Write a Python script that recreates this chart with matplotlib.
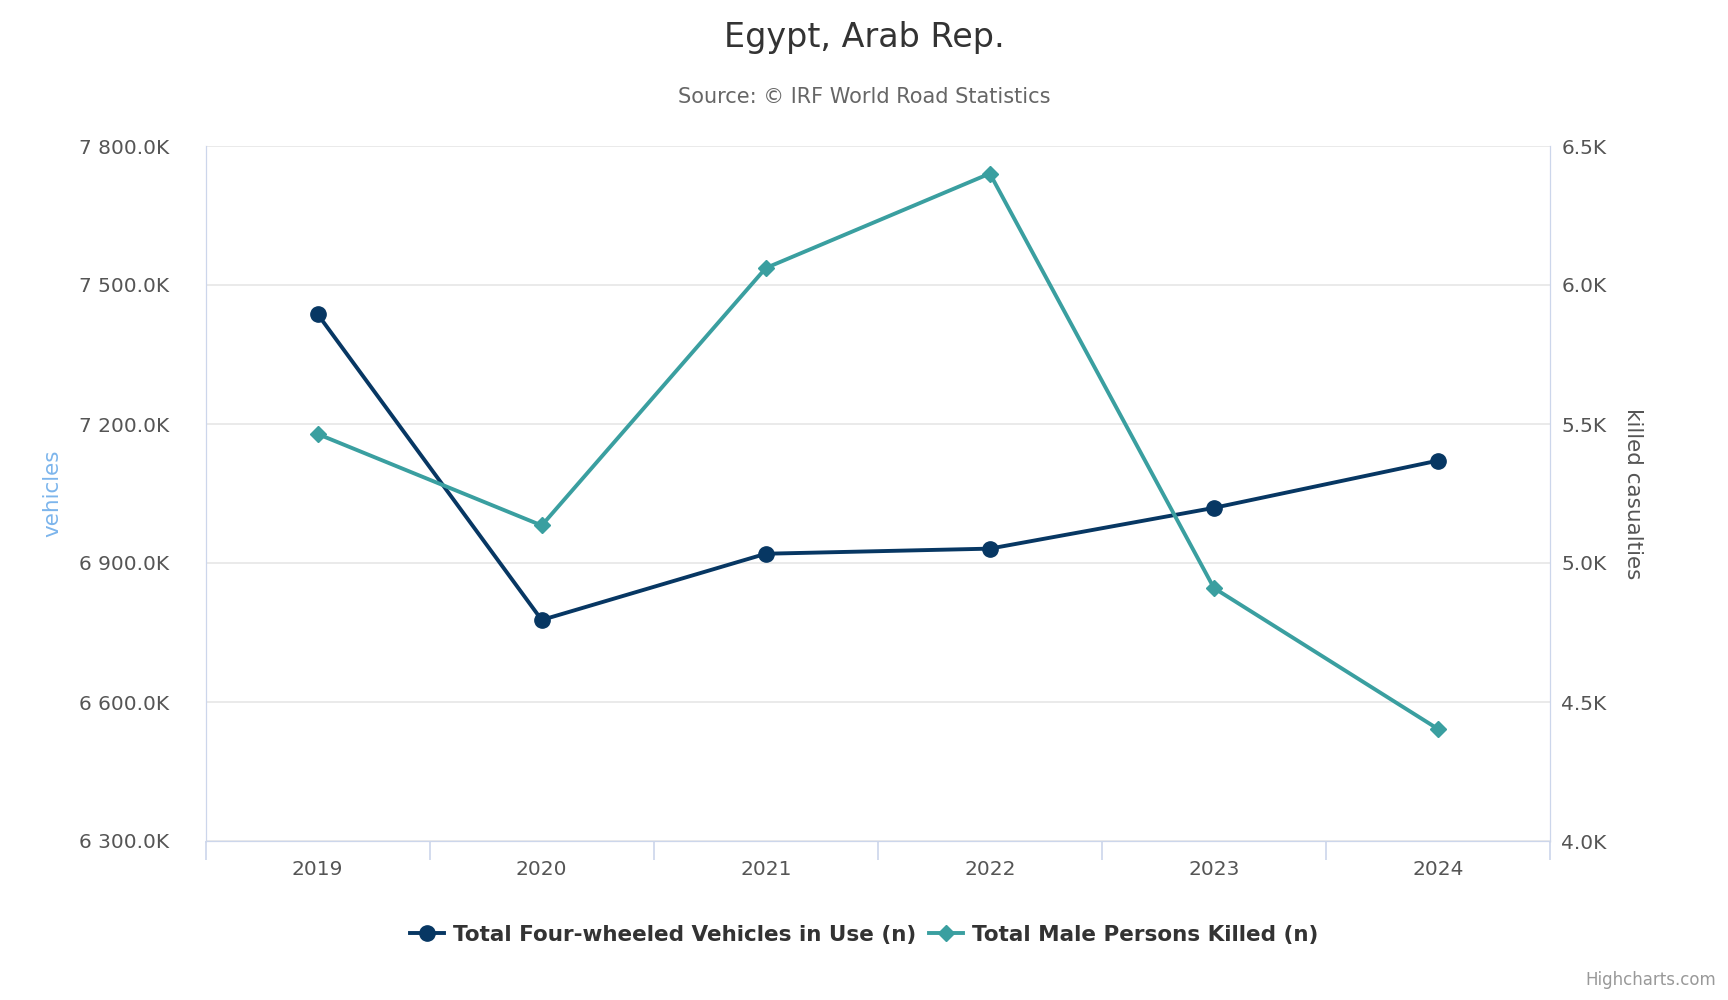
import matplotlib
matplotlib.use("Agg")
import matplotlib.pyplot as plt
import numpy as np
from matplotlib.ticker import FuncFormatter, FixedLocator

years = ["2019", "2020", "2021", "2022", "2023", "2024"]
vehicles = [7437, 6777, 6920, 6931, 7019, 7121]  # thousands
killed = [5464, 5135, 6061, 6401, 4910, 4403]

plt.rcParams['font.family'] = ['DejaVu Sans']
fig = plt.figure(figsize=(17.28, 10), dpi=100)
ax = fig.add_axes([0.119, 0.159, 0.778, 0.695])
ax2 = ax.twinx()
x = np.arange(len(years))

c1 = "#073763"
c2 = "#3a9fa0"
l1, = ax.plot(x, vehicles, color=c1, lw=2.8, marker='o', ms=11, zorder=3,
              label="Total Four-wheeled Vehicles in Use (n)")
l2, = ax2.plot(x, killed, color=c2, lw=2.8, marker='D', ms=8, zorder=3,
               label="Total Male Persons Killed (n)")

ax.set_xlim(-0.5, 5.5)
ax.set_ylim(6300, 7800)
ax.set_yticks(np.arange(6300, 7801, 300))
ax.yaxis.set_major_formatter(FuncFormatter(lambda v, p: f"{int(v):,}".replace(",", " ") + ".0K"))
ax2.set_ylim(4000, 6500)
ax2.set_yticks(np.arange(4000, 6501, 500))
ax2.yaxis.set_major_formatter(FuncFormatter(lambda v, p: f"{v/1000:.1f}K"))

ax.set_xticks(x)
ax.set_xticklabels(years)
ax.xaxis.set_minor_locator(FixedLocator(np.arange(-0.5, 5.6, 1)))
ax.tick_params(axis='x', which='major', length=0, pad=14, labelsize=14.5, colors="#555555")
ax.tick_params(axis='x', which='minor', length=14, color="#ccd6eb", width=1.2)
ax.tick_params(axis='y', length=0, labelsize=14.5, colors="#555555", pad=26)
ax2.tick_params(axis='y', length=0, labelsize=14.5, colors="#555555", pad=8)

ax.grid(axis='y', color="#e6e6e6", lw=1.2)
ax.set_axisbelow(True)
for a in (ax, ax2):
    a.spines['top'].set_visible(False)
    a.spines['bottom'].set_color("#ccd6eb")
    a.spines['left'].set_color("#ccd6eb")
    a.spines['right'].set_color("#ccd6eb")

ax.set_ylabel("vehicles", color="#7cb5ec", fontsize=15.5, labelpad=12)
ax2.set_ylabel("killed casualties", color="#555555", fontsize=15.5, rotation=270, labelpad=26)

fig.text(0.5, 0.962, "Egypt, Arab Rep.", ha='center', va='center', fontsize=24, color="#333333")
fig.text(0.5, 0.903, "Source: © IRF World Road Statistics", ha='center', va='center', fontsize=15, color="#666666")
leg = fig.legend(handles=[l1, l2], loc='center', bbox_to_anchor=(0.5, 0.065), ncol=2, frameon=False,
                 handlelength=1.6, columnspacing=0.6, handletextpad=0.4,
                 prop={'weight': 'bold', 'size': 15.5})
for t in leg.get_texts():
    t.set_color("#333333")
fig.text(0.993, 0.02, "Highcharts.com", ha='right', va='center', fontsize=12, color="#999999")

fig.savefig("out.png", dpi=100)
